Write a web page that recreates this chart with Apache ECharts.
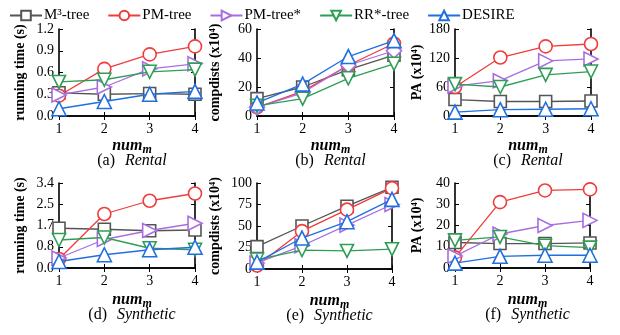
<!DOCTYPE html>
<html><head><meta charset="utf-8">
<script src="https://cdn.jsdelivr.net/npm/echarts@6/dist/echarts.min.js"></script>
<style>html,body{margin:0;padding:0;background:#fff}#c{width:620px;height:335px}</style>
</head><body><div id="c"></div>
<script>
const xCats = [1, 2, 3, 4];
const seriesNames = ['M³-tree', 'PM-tree', 'PM-tree*', 'RR*-tree', 'DESIRE'];

// (a) Rental running time (s)
const aM3 = [0.32, 0.30, 0.31, 0.30];
const aPM = [0.28, 0.65, 0.85, 0.96];
const aPMs = [0.29, 0.40, 0.65, 0.72];
const aRR = [0.47, 0.50, 0.61, 0.64];
const aDES = [0.10, 0.20, 0.30, 0.34];
// (b) Rental compdists
const bM3 = [12, 20, 32, 42];
const bPM = [6, 17, 35, 50];
const bPMs = [6, 16, 35, 45];
const bRR = [7, 12, 26, 36];
const bDES = [9, 22, 41, 52];
// (c) Rental PA
const cM3 = [34, 30, 30, 31];
const cPM = [60, 121, 144, 149];
const cPMs = [62, 73, 114, 118];
const cRR = [66, 60, 85, 92];
const cDES = [8, 13, 14, 15];
// (d) Synthetic running time
const dM3 = [1.59, 1.55, 1.49, 1.52];
const dPM = [0.36, 2.16, 2.69, 2.98];
const dPMs = [0.40, 1.14, 1.50, 1.79];
const dRR = [1.12, 1.22, 0.79, 0.73];
const dDES = [0.26, 0.53, 0.73, 0.83];
// (e) Synthetic compdists
const eM3 = [26, 50, 73, 95];
const ePM = [4, 44, 69, 94];
const ePMs = [7, 27, 51, 75];
const eRR = [11, 22, 21, 23];
const eDES = [8, 36, 55, 81];
// (f) Synthetic PA
const fM3 = [12, 11.5, 11.5, 11.8];
const fPM = [5, 31, 36.5, 37];
const fPMs = [5.6, 16, 20, 22.4];
const fRR = [13, 14.6, 10.5, 9.6];
const fDES = [2.3, 5.5, 6, 6];

const yTicksA = ['0.0', '0.3', '0.6', '0.9', '1.2'];
const yTicksB = ['0', '20', '40', '60'];
const yTicksC = ['0', '60', '120', '180'];
const yTicksD = ['0.0', '0.8', '1.7', '2.5', '3.4'];
const yTicksE = ['0', '25', '50', '75', '100'];
const yTicksF = ['0', '10', '20', '30', '40'];
const xTickLabels = ['1', '2', '3', '4'];

const colors = ['#555555', '#f03c3c', '#a86ee0', '#2f9e55', '#1f6fe0'];
const FONT = '"Liberation Serif", "DejaVu Serif", serif';

const panels = [
  {data: [aM3, aPM, aPMs, aRR, aDES], yMax: 1.2, yInt: 0.3, ticks: yTicksA, yName: 'running time (s)', cap: '(a)', ds: 'Rental', gap: 32,
   grid: {left: 59, top: 29, width: 136, height: 87}},
  {data: [bM3, bPM, bPMs, bRR, bDES], yMax: 60, yInt: 20, ticks: yTicksB, yName: 'compdists (x10⁴)', cap: '(b)', ds: 'Rental', gap: 35, diamond: true,
   grid: {left: 257, top: 29, width: 137, height: 87}},
  {data: [cM3, cPM, cPMs, cRR, cDES], yMax: 180, yInt: 60, ticks: yTicksC, yName: 'PA (x10⁴)', cap: '(c)', ds: 'Rental', gap: 31,
   grid: {left: 455, top: 29, width: 136, height: 87}},
  {data: [dM3, dPM, dPMs, dRR, dDES], yMax: 3.4, yInt: 0.85, ticks: yTicksD, yName: 'running time (s)', cap: '(d)', ds: 'Synthetic', gap: 32,
   grid: {left: 59, top: 183, width: 136, height: 85}},
  {data: [eM3, ePM, ePMs, eRR, eDES], yMax: 100, yInt: 25, ticks: yTicksE, yName: 'compdists (x10⁴)', cap: '(e)', ds: 'Synthetic', gap: 35,
   grid: {left: 257, top: 183, width: 135, height: 86}},
  {data: [fM3, fPM, fPMs, fRR, fDES], yMax: 40, yInt: 10, ticks: yTicksF, yName: 'PA (x10⁴)', cap: '(f)', ds: 'Synthetic', gap: 31,
   grid: {left: 455, top: 183, width: 135, height: 85}}
];

const symbols = [
  {symbol: 'rect', rot: 0, size: 12},
  {symbol: 'circle', rot: 0, size: 13},
  {symbol: 'triangle', rot: -90, size: 14},
  {symbol: 'triangle', rot: 180, size: 13},
  {symbol: 'triangle', rot: 0, size: 14}
];

const grids = [], xAxes = [], yAxes = [], series = [], titles = [];
const lineStyle = {color: '#000', width: 1.6};
panels.forEach((p, i) => {
  grids.push(p.grid);
  xAxes.push({
    type: 'value', gridIndex: i, min: 1, max: 4, interval: 1, position: 'bottom',
    axisLine: {show: true, lineStyle}, splitLine: {show: false},
    axisTick: {show: true, inside: true, length: 4, lineStyle: {color: '#000', width: 1}},
    axisLabel: {fontFamily: FONT, fontSize: 14, color: '#000', margin: 6,
      formatter: v => xTickLabels[Math.round(v) - 1]}
  });
  xAxes.push({
    type: 'value', gridIndex: i, min: 1, max: 4, interval: 1, position: 'top',
    axisLine: {show: true, lineStyle}, splitLine: {show: false},
    axisTick: {show: true, inside: true, length: 4, lineStyle: {color: '#000', width: 1}},
    axisLabel: {show: false}
  });
  yAxes.push({
    type: 'value', gridIndex: i, min: 0, max: p.yMax, interval: p.yInt, position: 'left',
    axisLine: {show: true, lineStyle}, splitLine: {show: false},
    axisTick: {show: true, inside: true, length: 4, lineStyle: {color: '#000', width: 1}},
    axisLabel: {fontFamily: FONT, fontSize: 14, color: '#000', margin: 5,
      formatter: v => p.ticks[Math.round(v / p.yInt)]},
    name: p.yName, nameLocation: 'middle', nameGap: p.gap, nameRotate: 90,
    nameTextStyle: {fontFamily: FONT, fontSize: 14, fontWeight: 'bold', color: '#000'}
  });
  yAxes.push({
    type: 'value', gridIndex: i, min: 0, max: p.yMax, interval: p.yInt, position: 'right',
    axisLine: {show: true, lineStyle}, splitLine: {show: false},
    axisTick: {show: true, inside: true, length: 4, lineStyle: {color: '#000', width: 1}},
    axisLabel: {show: false}
  });
  p.data.forEach((vals, k) => {
    let sym = symbols[k];
    if (p.diamond && k === 2) sym = {symbol: 'diamond', rot: 0, size: 15};
    series.push({
      type: 'line', name: seriesNames[k], xAxisIndex: 2 * i, yAxisIndex: 2 * i,
      data: xCats.map((x, j) => [x, vals[j]]),
      symbol: sym.symbol, symbolRotate: sym.rot, symbolSize: sym.size,
      showAllSymbol: true, clip: false, animation: false,
      itemStyle: {color: '#fff', borderColor: colors[k], borderWidth: 1.6},
      lineStyle: {color: colors[k], width: 1.3},
      emphasis: {disabled: true}, z: 2 + k
    });
  });
  const cx = p.grid.left + p.grid.width / 2;
  const base = p.grid.top + p.grid.height;
  const up = i < 3 ? 2 : 0;
  titles.push({
    text: '{n|num}{s|m}',
    left: cx, top: base + 18 - up, textAlign: 'center',
    textStyle: {rich: {
      n: {fontFamily: FONT, fontSize: 16, fontWeight: 'bold', fontStyle: 'italic', color: '#000', lineHeight: 18},
      s: {fontFamily: FONT, fontSize: 12, fontWeight: 'bold', fontStyle: 'italic', color: '#000', lineHeight: 18, padding: [8, 0, 0, 0]}
    }}
  });
  titles.push({
    text: '{c|' + p.cap + '}  {d|' + p.ds + '}',
    left: cx, top: base + 33 - up, textAlign: 'center',
    textStyle: {rich: {
      c: {fontFamily: FONT, fontSize: 16, fontWeight: 'normal', color: '#000'},
      d: {fontFamily: FONT, fontSize: 16, fontWeight: 'normal', fontStyle: 'italic', color: '#000'}
    }}
  });
});

const chart = echarts.init(document.getElementById('c'), null, {renderer: 'canvas'});
chart.setOption({
  animation: false,
  title: titles,
  legend: {
    top: 3, left: 4, itemWidth: 32, itemHeight: 12, itemGap: 18,
    data: seriesNames,
    textStyle: {fontFamily: FONT, fontSize: 15, color: '#000', padding: [0, 0, 0, -3]},
    selectedMode: false
  },
  grid: grids, xAxis: xAxes, yAxis: yAxes, series: series
});
</script></body></html>
